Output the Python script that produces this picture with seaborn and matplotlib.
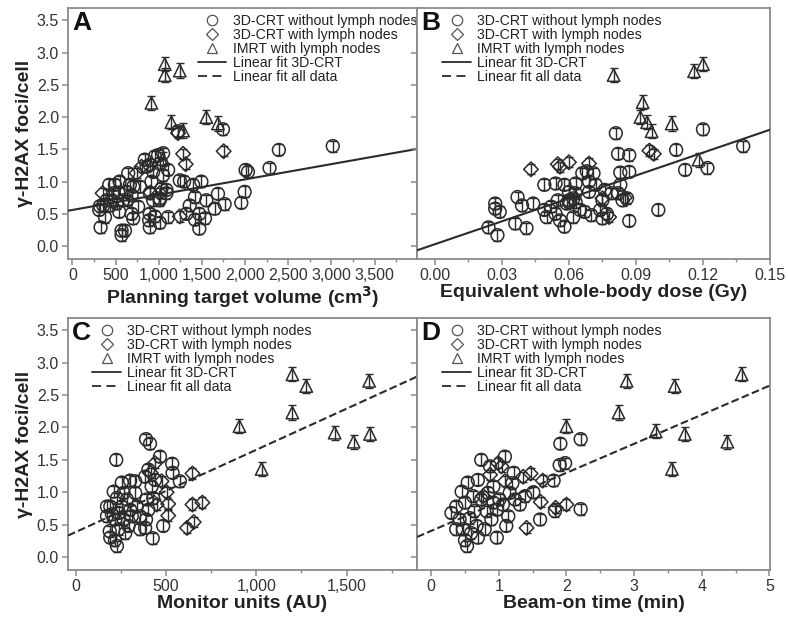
import numpy as np
import pandas as pd
import matplotlib
matplotlib.use("Agg")
import matplotlib.pyplot as plt
from matplotlib.lines import Line2D
from matplotlib.ticker import MultipleLocator, FuncFormatter
import seaborn as sns

# ---------------- data ----------------
groups = ["3D-CRT without lymph nodes", "3D-CRT with lymph nodes", "IMRT with lymph nodes"]

# Panel A: planning target volume (cm3)
ptv_no_ln = [1744, 1224, 3015, 2391, 2283, 2006, 2033, 1995, 1956, 1763, 1648, 1686, 1551, 1494, 1398,
             1470, 1470, 1420, 1536, 1359, 1420, 1321, 1244, 1294, 1109, 1012, 955, 897, 889, 897, 916,
             1012, 1032, 1090, 1051, 993, 955, 897, 859, 936, 1012, 1109, 1051, 839, 647, 666, 705, 686,
             762, 686, 705, 543, 427, 493, 547, 474, 397, 435, 312, 320, 358, 378, 327, 570, 609, 570,
             532, 590, 628, 782, 512, 897, 936, 1012, 1090]
foci_a_no_ln = [1.81, 1.78, 1.55, 1.49, 1.21, 1.18, 1.15, 0.84, 0.67, 0.65, 0.58, 0.81, 0.71, 1.00, 0.95,
                0.50, 0.27, 0.41, 0.43, 0.63, 0.76, 0.50, 1.02, 1.00, 0.45, 0.36, 0.46, 0.50, 0.40, 0.29, 1.00,
                0.74, 0.89, 0.87, 1.44, 1.41, 1.39, 1.26, 1.23, 1.15, 1.28, 1.18, 1.10, 1.34, 1.13, 0.95, 0.92,
                0.79, 0.61, 0.50, 0.43, 0.53, 0.95, 0.95, 1.00, 0.82, 0.71, 0.63, 0.56, 0.62, 0.63, 0.45, 0.29,
                0.24, 0.24, 0.17, 0.83, 0.71, 0.84, 0.92, 0.66, 0.82, 0.71, 0.71, 0.82]
ptv_ln = [1224, 1282, 1313, 1752, 801, 350, 647, 1012, 905, 1244, 743, 474]
foci_a_ln = [1.75, 1.43, 1.27, 1.47, 1.23, 0.82, 0.71, 0.82, 0.83, 0.46, 1.13, 0.71]
ptv_imrt = [1070, 1070, 1244, 916, 1147, 1282, 1551, 1686, 1050]
foci_a_imrt = [2.82, 2.65, 2.72, 2.22, 1.92, 1.79, 2.00, 1.90, 1.35]

# Panel B: equivalent whole-body dose (Gy)
dose_no_ln = [0.081, 0.120, 0.138, 0.108, 0.082, 0.087, 0.112, 0.122, 0.100, 0.087, 0.083, 0.087, 0.024,
              0.028, 0.027, 0.027, 0.029, 0.036, 0.037, 0.039, 0.041, 0.044, 0.049, 0.049, 0.050, 0.054,
              0.058, 0.055, 0.054, 0.058, 0.056, 0.062, 0.063, 0.063, 0.066, 0.069, 0.072, 0.069, 0.063,
              0.065, 0.067, 0.070, 0.074, 0.075, 0.075, 0.077, 0.076, 0.079, 0.083, 0.084, 0.086, 0.082,
              0.068, 0.071, 0.060, 0.059, 0.052, 0.060, 0.062, 0.060]
foci_b_no_ln = [1.75, 1.81, 1.55, 1.49, 1.43, 1.41, 1.18, 1.21, 0.56, 0.39, 1.14, 1.15, 0.29, 0.17, 0.66,
                0.58, 0.53, 0.35, 0.76, 0.63, 0.28, 0.66, 0.95, 0.56, 0.45, 0.97, 0.95, 0.71, 0.50, 0.30,
                0.40, 0.45, 0.68, 0.97, 1.13, 1.00, 0.95, 0.84, 0.82, 0.56, 0.53, 0.48, 0.56, 0.71, 0.43,
                0.50, 0.87, 0.82, 0.95, 0.71, 0.74, 0.82, 1.16, 1.13, 0.84, 0.66, 0.61, 0.71, 0.74, 0.68]
dose_ln = [0.043, 0.055, 0.060, 0.056, 0.096, 0.098, 0.069, 0.078, 0.075, 0.085]
foci_b_ln = [1.19, 1.27, 1.30, 1.23, 1.48, 1.43, 1.28, 0.45, 0.74, 0.75]
dose_imrt = [0.080, 0.116, 0.120, 0.093, 0.092, 0.095, 0.097, 0.106, 0.118]
foci_b_imrt = [2.65, 2.71, 2.82, 2.23, 2.00, 1.92, 1.78, 1.90, 1.34]

# Panel C: monitor units (AU)
mu_no_ln = [390, 412, 225, 467, 535, 537, 577, 485, 427, 385, 390, 403, 430, 421, 385, 403, 440, 330, 302,
            256, 211, 229, 192, 174, 189, 192, 229, 218, 238, 266, 293, 311, 339, 357, 284, 330, 256, 220,
            275, 302, 357, 394, 238, 174, 201, 266]
foci_c_no_ln = [1.82, 1.75, 1.50, 1.55, 1.44, 1.30, 1.17, 0.48, 0.29, 0.45, 0.58, 0.73, 0.91, 1.09, 1.24,
                1.35, 1.19, 1.17, 1.18, 1.15, 1.01, 0.91, 0.78, 0.63, 0.40, 0.30, 0.17, 0.26, 0.68, 0.58,
                0.48, 0.63, 0.78, 0.43, 0.89, 0.99, 0.78, 0.58, 0.37, 0.73, 0.63, 0.89, 0.43, 0.78, 0.66, 0.99]
mu_ln = [647, 647, 702, 617, 654, 513, 513, 476, 449, 504, 416, 440]
foci_c_ln = [1.29, 0.81, 0.84, 0.45, 0.54, 0.82, 0.64, 1.17, 0.81, 1.00, 1.30, 1.45]
mu_imrt = [1200, 1277, 1625, 1200, 907, 1434, 1539, 1630, 1030]
foci_c_imrt = [2.82, 2.64, 2.72, 2.23, 2.02, 1.92, 1.78, 1.90, 1.36]

# Panel D: beam-on time (min)
time_no_ln = [0.74, 1.09, 1.91, 2.21, 1.90, 1.98, 1.81, 2.21, 1.83, 1.51, 1.39, 1.24, 1.22, 1.20, 1.14,
              1.11, 0.97, 0.69, 0.53, 0.50, 0.30, 0.37, 0.45, 0.54, 0.69, 0.62, 0.50, 0.57, 0.67, 0.74,
              0.84, 0.92, 0.92, 0.97, 1.01, 0.89, 0.79, 0.37, 0.42, 0.87, 1.31, 1.61, 1.06, 1.16, 0.82,
              0.64, 0.47, 0.59]
foci_d_no_ln = [1.50, 1.55, 1.75, 1.82, 1.42, 1.45, 1.18, 0.74, 0.71, 1.00, 0.94, 0.89, 1.30, 1.14, 0.63,
                0.48, 0.30, 0.30, 0.17, 0.26, 0.68, 0.78, 1.01, 1.15, 1.19, 0.94, 0.84, 0.60, 0.48, 0.89,
                0.99, 1.09, 0.84, 0.73, 0.89, 0.58, 0.43, 0.43, 0.58, 1.40, 0.81, 0.58, 0.81, 0.99, 0.71,
                0.71, 0.43, 0.37]
time_ln = [0.99, 1.04, 0.87, 1.36, 1.47, 1.65, 1.62, 2.00, 1.41, 1.84, 1.09, 0.77]
foci_d_ln = [1.45, 1.40, 1.27, 1.24, 1.29, 1.18, 0.85, 0.81, 0.45, 0.76, 1.17, 0.94]
time_imrt = [2.89, 3.60, 4.59, 2.77, 2.00, 3.32, 3.75, 4.38, 3.56]
foci_d_imrt = [2.72, 2.64, 2.82, 2.23, 2.02, 1.94, 1.90, 1.78, 1.36]

# standard error of the foci counts per group
sem_by_group = [0.085, 0.08, 0.11]

# linear fits: (intercept, slope)
fit_3dcrt_ptv = (0.56, 0.000237)
fit_3dcrt_dose = (0.029, 11.83)
fit_all_mu = (0.385, 0.00127)
fit_all_time = (0.404, 0.448)

# ---------------- style ----------------
sns.set_theme(style="ticks")
plt.rcParams["font.family"] = ["Liberation Sans", "DejaVu Sans"]
plt.rcParams["axes.edgecolor"] = "#8a8a8a"
plt.rcParams["axes.linewidth"] = 1.3
plt.rcParams["xtick.color"] = "#8a8a8a"
plt.rcParams["ytick.color"] = "#8a8a8a"
plt.rcParams["xtick.labelcolor"] = "#333333"
plt.rcParams["ytick.labelcolor"] = "#333333"

ink = "#2b2b2b"
markers = ["o", "D", "^"]
sizes = [85, 55, 80]

fig = plt.figure(figsize=(7.88, 6.17), dpi=100)
W, H = 788, 617


def axes_at(x0, y0, x1, y1):
    return fig.add_axes([x0 / W, 1 - y1 / H, (x1 - x0) / W, (y1 - y0) / H])


axA = axes_at(68, 8, 417, 259)
axB = axes_at(417, 8, 770, 259)
axC = axes_at(68, 318, 417, 570)
axD = axes_at(417, 318, 770, 570)


def draw_panel(ax, xs, ys, fit, fit_style, xlim, xmajor, fmt, letter, xlabel,
               legend_loc, legend_anchor, show_ylabels):
    for gi, (x, y) in enumerate(zip(xs, ys)):
        ax.errorbar(x, y, yerr=sem_by_group[gi], fmt="none", ecolor=ink,
                    elinewidth=1.0, capsize=2.8, capthick=1.0, zorder=2)
        df = pd.DataFrame({"x": x, "y": y})
        sns.scatterplot(data=df, x="x", y="y", ax=ax, marker=markers[gi], s=sizes[gi],
                        facecolor="none", edgecolor=ink, linewidth=1.1, zorder=3, legend=False)
    b, m = fit
    line_x = np.array(xlim, dtype=float)
    sns.lineplot(x=line_x, y=b + m * line_x, ax=ax, color=ink, linewidth=1.5,
                 linestyle=fit_style, dashes=(fit_style == "--") and (5.5, 3.5) or "", zorder=4)
    ax.set_xlim(*xlim)
    ax.set_ylim(-0.2, 3.69)
    ax.xaxis.set_major_locator(MultipleLocator(xmajor))
    ax.xaxis.set_minor_locator(MultipleLocator(xmajor / 2))
    ax.xaxis.set_major_formatter(FuncFormatter(fmt))
    ax.yaxis.set_major_locator(MultipleLocator(0.5))
    ax.tick_params(axis="both", which="major", direction="out", length=4, width=1.1,
                   labelsize=11.5, pad=2.5)
    ax.tick_params(axis="x", which="minor", direction="out", length=2, width=1.0)
    if not show_ylabels:
        ax.set_yticklabels([])
        ax.set_ylabel("")
    else:
        ax.set_ylabel("γ-H2AX foci/cell", fontsize=14, fontweight="bold", color="#222222",
                      labelpad=3)
    ax.set_xlabel(xlabel, fontsize=14, fontweight="bold", color="#222222", labelpad=0.5)
    for side in ["top", "right", "left", "bottom"]:
        ax.spines[side].set_visible(True)
    ax.text(0.012, 0.988, letter, transform=ax.transAxes, fontsize=19, fontweight="bold",
            va="top", ha="left", color="#111111")

    handles = [
        Line2D([], [], marker="o", linestyle="none", markerfacecolor="none",
               markeredgecolor="#555555", markersize=7.5, markeredgewidth=0.9),
        Line2D([], [], marker="D", linestyle="none", markerfacecolor="none",
               markeredgecolor="#555555", markersize=6, markeredgewidth=0.9),
        Line2D([], [], marker="^", linestyle="none", markerfacecolor="none",
               markeredgecolor="#555555", markersize=7.5, markeredgewidth=0.9),
        Line2D([], [], color=ink, linewidth=1.3, linestyle="-"),
        Line2D([], [], color=ink, linewidth=1.3, linestyle=(0, (5, 3))),
    ]
    labels = groups + ["Linear fit 3D-CRT", "Linear fit all data"]
    leg = ax.legend(handles, labels, loc=legend_loc, bbox_to_anchor=legend_anchor,
                    frameon=False, fontsize=10.2, labelspacing=0.0, handlelength=2.0,
                    handletextpad=0.45, borderpad=0, borderaxespad=0)
    for t in leg.get_texts():
        t.set_color("#222222")


thousands = lambda v, p: f"{int(round(v)):,}"
draw_panel(axA, [ptv_no_ln, ptv_ln, ptv_imrt], [foci_a_no_ln, foci_a_ln, foci_a_imrt],
           fit_3dcrt_ptv, "-", (-50, 3990), 500, thousands, "A",
           "Planning target volume (cm$^\\mathbf{3}$)", "upper right", (1.0, 0.978), True)
draw_panel(axB, [dose_no_ln, dose_ln, dose_imrt], [foci_b_no_ln, foci_b_ln, foci_b_imrt],
           fit_3dcrt_dose, "-", (-0.008, 0.15), 0.03, lambda v, p: f"{v:.2f}", "B",
           "Equivalent whole-body dose (Gy)", "upper left", (0.072, 0.978), False)
draw_panel(axC, [mu_no_ln, mu_ln, mu_imrt], [foci_c_no_ln, foci_c_ln, foci_c_imrt],
           fit_all_mu, "--", (-42, 1890), 500, thousands, "C",
           "Monitor units (AU)", "upper left", (0.07, 0.978), True)
draw_panel(axD, [time_no_ln, time_ln, time_imrt], [foci_d_no_ln, foci_d_ln, foci_d_imrt],
           fit_all_time, "--", (-0.21, 5.01), 1, lambda v, p: f"{v:.0f}", "D",
           "Beam-on time (min)", "upper left", (0.072, 0.978), False)

fig.savefig("out.png", dpi=100)
